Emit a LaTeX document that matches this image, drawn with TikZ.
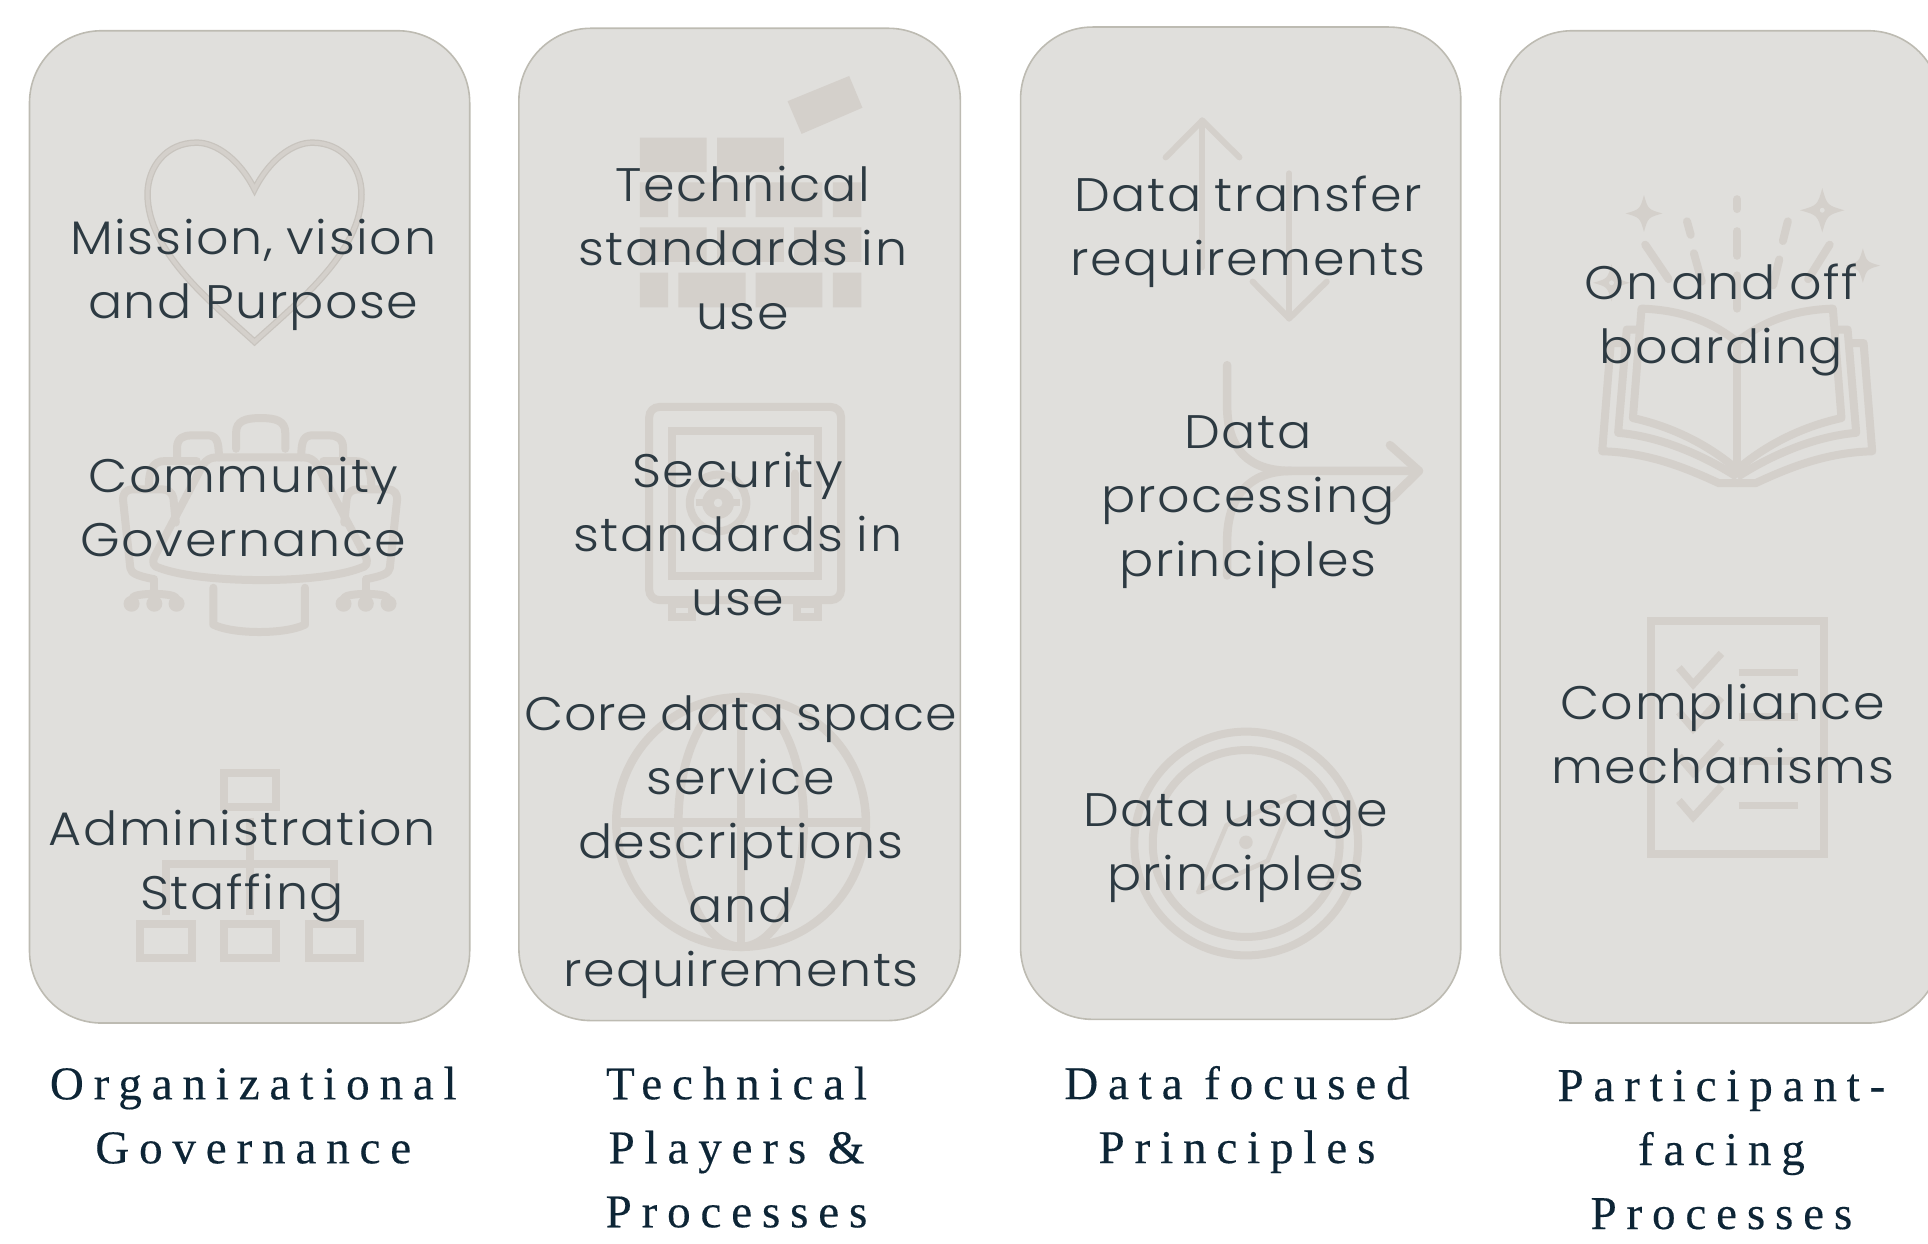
\documentclass[tikz,border=0pt]{standalone}
\usepackage{fontspec}
\setmainfont{Liberation Serif}
\newfontfamily\bodyf[UprightFont={* Light},LetterSpace=3.5,FakeStretch=1.08,WordSpace=0.85]{Poppins}
\newfontfamily\corelinef[UprightFont={* Light},LetterSpace=1.8,FakeStretch=1.08,WordSpace=0.85]{Poppins}
\newfontfamily\titlef[LetterSpace=21,FakeBold=0.3]{Liberation Serif}
\definecolor{panelfill}{HTML}{E0DFDC}
\definecolor{paneledge}{HTML}{BDBBB2}
\definecolor{iconc}{HTML}{D4D0CB}
\definecolor{iconedge}{HTML}{C8C4BE}
\definecolor{bodyc}{HTML}{2D3A42}
\definecolor{titlec}{HTML}{0D2536}
\tikzset{
  panel/.style={fill=panelfill,draw=paneledge,line width=1.6pt,rounded corners=72pt},
  bodytext/.style={inner sep=0pt,align=center,text=bodyc,font=\bodyf\fontsize{47}{64}\selectfont},
  titletext/.style={inner sep=0pt,align=center,text=titlec,font=\titlef\fontsize{47}{64}\selectfont},
  iconline/.style={draw=iconc,line width=8pt},
  iconround/.style={draw=iconc,line width=8pt,line cap=round,line join=round},
  iconfill/.style={fill=iconc,draw=none}
}
\newcommand{\sparkle}[3]{%
  \begin{scope}[shift={(#1,#2)},scale=#3]
    \fill[iconc] (0,-1) .. controls (0.22,-0.22) .. (1,0) .. controls (0.22,0.22) .. (0,1) .. controls (-0.22,0.22) .. (-1,0) .. controls (-0.22,-0.22) .. (0,-1) -- cycle;
  \end{scope}}
\newcommand{\heartpath}{(207,154) .. controls (195,130) and (176,116) .. (160,116) .. controls (135,116) and (120,136) .. (120,158)
  .. controls (120,205) and (172,246) .. (207,278)
  .. controls (242,246) and (294,205) .. (294,158) .. controls (294,136) and (279,116) .. (254,116)
  .. controls (238,116) and (219,130) .. (207,154) -- cycle}
\begin{document}
\begin{tikzpicture}[x=1.22959pt,y=-1.22959pt]
\useasboundingbox (0,0) rectangle (1568,1011.7);
% panels
\draw[panel] (24,25) rectangle (382,832);
\draw[panel] (422,23) rectangle (781,830);
\draw[panel] (830,22) rectangle (1188,829);
\begin{scope}
  \clip (0,0) rectangle (1568,1011.7);
  \draw[panel] (1220,25) rectangle (1578,832);
\end{scope}
% heart
\draw[draw=iconedge,line width=6.5pt,line join=miter] \heartpath;
\draw[draw=iconc,line width=4pt,line join=miter] \heartpath;
% table
\begin{scope}[iconround]
  \draw (176,372) -- (247,372) .. controls (252,372) and (255,374) .. (258,378) -- (297,452) .. controls (300,458) and (298,461) .. (293,462)
    .. controls (260,475) and (165,475) .. (130,462) .. controls (125,461) and (123,458) .. (126,452) -- (165,378) .. controls (168,374) and (171,372) .. (176,372) -- cycle;
  \draw (173.5,478) -- (173.5,508) .. controls (190,516) and (232,516) .. (248,508) -- (248,478);
  \draw (192,365) -- (192,352) .. controls (192,342) and (200,340) .. (212,340) .. controls (224,340) and (232,342) .. (232,352) -- (232,365);
  \foreach \mx/\sx in {0/1,423/-1}{
    \begin{scope}[shift={(\mx,0)},xscale=\sx]
      \draw (144,372) -- (144,364) .. controls (144,356) and (150,354) .. (156,354) -- (168,354) .. controls (176,354) and (178,358) .. (178,372);
      \draw (121,397) .. controls (121,382) and (124,375) .. (134,375) -- (160,375);
      \draw (143,425) -- (141,405) .. controls (140,400) and (136,398) .. (132,398) -- (108,398) .. controls (102,398) and (100,402) .. (100,406) -- (106,462) .. controls (107,466) and (110,468) .. (125,471);
      \draw (125,471) -- (125,486);
      \draw (108,486) .. controls (110,482) and (140,482) .. (143,486);
      \fill[iconc] (107,491) circle (6.5) (125.5,491) circle (6.5) (143.6,491) circle (6.5);
    \end{scope}
  }
\end{scope}
% org chart
\begin{scope}[iconline,line width=8pt]
  \draw (182.5,629) rectangle (224.5,656);
  \draw (114.1,751.5) rectangle (155.8,779.5);
  \draw (182.5,751.5) rectangle (224.5,779.5);
  \draw (250.9,751.5) rectangle (292.5,779.5);
  \draw (203,665) -- (203,744.5);
  \draw (135,744.5) -- (135,703) -- (272,703) -- (272,744.5);
\end{scope}
% bricks
\begin{scope}[iconfill]
  \fill[iconc] (520.4,112) rectangle (574.6,140) (583.3,112) rectangle (637.5,140);
  \fill[iconc] (520.4,148.4) rectangle (543.4,176.6) (551.6,148.4) rectangle (606.3,176.6) (614.5,148.4) rectangle (668.9,176.6) (677.3,148.4) rectangle (700.6,176.6);
  \fill[iconc] (520.4,185) rectangle (574.6,213) (583.3,185) rectangle (637.5,213) (645.9,185) rectangle (700.6,213);
  \fill[iconc] (520.4,221.8) rectangle (543.4,250) (551.6,221.8) rectangle (606.3,250) (614.5,221.8) rectangle (668.9,250) (677.3,221.8) rectangle (700.6,250);
  \fill[iconc] (640.5,82.3) -- (690.6,61.8) -- (701.4,87.6) -- (651.9,108.9) -- cycle;
\end{scope}
% safe
\draw[iconline,rounded corners=10pt] (528,331) rectangle (684,488);
\draw[iconline] (546.5,350.5) rectangle (665.5,468.5);
\draw[iconline] (584,409) circle (23);
\fill[iconc] (584,409) circle (13);
\draw[iconc,line width=7pt] (566,409) -- (602,409);
\fill[panelfill] (584,409) circle (3.5);
\draw[iconround] (646.5,385) -- (646.5,432);
\draw[iconline] (546.5,491) rectangle (563,502);
\draw[iconline] (648.5,491) rectangle (665.5,502);
% globe
\draw[iconline,line width=8.5pt] (602.7,668.5) circle (101.5);
\draw[iconline,line width=8.5pt] (602.7,668.5) ellipse (51 and 101.5);
\draw[iconline,line width=8.5pt] (602.7,567) -- (602.7,770);
\draw[iconline,line width=8.5pt] (501,669) -- (704,669);
% arrows up/down
\begin{scope}[iconround,line width=6pt]
  \draw (977.8,217.5) -- (977.8,98);
  \draw (948,128) -- (977.8,98) -- (1008,128);
  \draw (1048.5,141) -- (1048.5,259);
  \draw (1018.7,229) -- (1048.5,259) -- (1079,229);
\end{scope}
% merge arrow
\begin{scope}[iconround,line width=8.5pt]
  \draw (998,297) -- (998,330) .. controls (998,365) and (1015,383) .. (1050,383) -- (1154,383);
  \draw (998,468) -- (998,440) .. controls (998,405) and (1015,383) .. (1050,383);
  \draw (1130.4,362) -- (1154,383) -- (1131.7,405);
\end{scope}
% compass
\draw[iconline] (1013.5,686) circle (91);
\draw[iconline] (1013.5,686) circle (76);
\draw[iconround,line width=4.5pt] (1053,647.4) -- (997.6,671) -- (974.5,725.7) -- (1031,700) -- cycle;
\fill[iconc] (1013.3,685) circle (5.5);
% sparkles and rays
\sparkle{1337}{173.6}{15}
\sparkle{1482}{171}{18}
\sparkle{1515}{216}{14}
\sparkle{1310.6}{230}{15}
\fill[panelfill] (1482,171) circle (2) (1310.6,230) circle (2);
\begin{scope}[iconround,line width=8pt]
  \draw (1412.8,162) -- (1412.8,170);
  \draw (1412.8,188) -- (1412.8,208);
  \draw (1412.8,224) -- (1412.8,251);
  \draw (1372,180) -- (1375,191);
  \draw (1377.6,206) -- (1384,229);
  \draw (1454,180) -- (1450,196);
  \draw (1447,211) -- (1442,232);
  \draw (1338,199) -- (1357,227);
  \draw (1488,199) -- (1470.5,227);
\end{scope}
% book
\begin{scope}[iconround,line width=8pt,line cap=butt]
  \draw (1412.8,278) -- (1412.8,388);
  \foreach \mx/\sx in {0/1,2825.6/-1}{
    \begin{scope}[shift={(\mx,0)},xscale=\sx]
      \draw (1412.8,278) .. controls (1390,260) and (1365,252) .. (1335,251) -- (1328,340) .. controls (1360,347) and (1390,362) .. (1412.8,382);
      \draw (1335,268) -- (1323,268) -- (1316,352) .. controls (1350,355) and (1385,370) .. (1412.8,388);
      \draw (1323,279) -- (1310,279) -- (1303,367) .. controls (1340,368) and (1370,380) .. (1398,393) -- (1412.8,393);
    \end{scope}
  }
\end{scope}
% checklist
\draw[iconline] (1342.3,505.3) rectangle (1483.3,694.7);
\begin{scope}[iconline,line width=7.5pt]
  \foreach \dy in {0,36,72,108}{
    \draw (1365.4,543+\dy) -- (1377,556.5+\dy) -- (1400,531.4+\dy);
  }
  \foreach \ly in {546.8,583,619,655}{
    \draw (1414,\ly) -- (1462.4,\ly);
  }
\end{scope}
% panel texts
\node[bodytext] (mission) at (206,223.5) {Mission, vision\\and Purpose};
\node[bodytext] (community) at (198,412) {Community\\Governance};
\node[bodytext] (admin) at (197,704.5) {Administration\\Staffing};
\node[bodytext] (techstd) at (604,202) {Technical\\standards in\\use};
\node[bodytext] (secstd) at (600,434) {Security\\standards in\\use};
\node[bodytext] (core) at (602.5,689) {{\corelinef\fontsize{47}{64}\selectfont Core data space}\\service\\descriptions\\and\\requirements};
\node[bodytext] (transfer) at (1015,188.5) {Data transfer\\requirements};
\node[bodytext] (processing) at (1015,408) {Data\\processing\\principles};
\node[bodytext] (usage) at (1005,689.5) {Data usage\\principles};
\node[bodytext] (boarding) at (1400,260.5) {On and off\\boarding};
\node[bodytext] (compliance) at (1401,597) {Compliance\\mechanisms};
% titles
\node[titletext] (torg) at (206,907) {Organizational\\Governance};
\node[titletext] (ttech) at (599,933) {Technical\\Players \&\\Processes};
\node[titletext] (tdata) at (1006,910.5) {Data focused\\Principles};
\node[titletext] (tpart) at (1400,935) {Participant-\\facing\\Processes};
\end{tikzpicture}
\end{document}
